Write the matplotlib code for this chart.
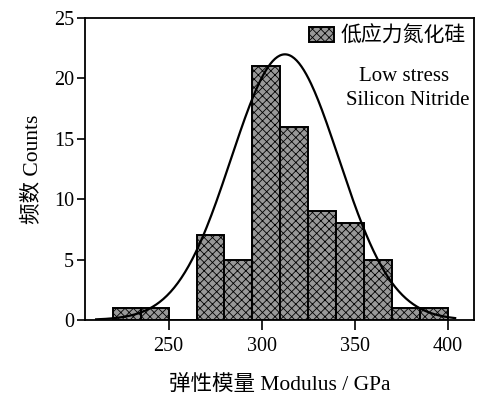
import numpy as np
import matplotlib.pyplot as plt

plt.rcParams['font.family'] = ['Liberation Serif', 'Noto Sans CJK SC']
plt.rcParams['hatch.linewidth'] = 0.6

# histogram bins (GPa) and counts
bin_edges = np.array([220, 235, 250, 265, 280, 295, 310, 325, 340, 355, 370, 385, 400])
counts = np.array([1, 1, 0, 7, 5, 21, 16, 9, 8, 5, 1, 1])

# normal curve drawn over the histogram
fit_mean = 312.5
fit_sigma = 29.0
fit_peak = 22.0
fit_range = (211, 404)

fig = plt.figure(figsize=(4.8, 3.94), dpi=100)
ax = fig.add_axes([0.177, 0.188, 0.81, 0.766])

widths = np.diff(bin_edges)
ax.bar(bin_edges[:-1], counts, width=widths, align='edge',
       facecolor='#999999', edgecolor='black', linewidth=1.4,
       hatch='xxxx', label='低应力氮化硅')

xs = np.linspace(fit_range[0], fit_range[1], 300)
ys = fit_peak * np.exp(-0.5 * ((xs - fit_mean) / fit_sigma) ** 2)
ax.plot(xs, ys, color='black', linewidth=1.6)

ax.set_xlim(205, 414)
ax.set_ylim(0, 25)
ax.set_xticks([250, 300, 350, 400])
ax.set_yticks([0, 5, 10, 15, 20, 25])
ax.tick_params(direction='out', width=1.2, labelsize=14.5)
ax.tick_params(axis='x', length=7, pad=5)
ax.tick_params(axis='y', length=6, pad=2)
for s in ax.spines.values():
    s.set_linewidth(1.3)

ax.set_xlabel('弹性模量 Modulus / GPa', fontsize=15.5, labelpad=14)
ax.set_ylabel('频数 Counts', fontsize=15.5, labelpad=8)

leg = ax.legend(loc='upper right', frameon=False, fontsize=15,
                handlelength=1.2, handleheight=0.7, handletextpad=0.3,
                borderaxespad=0.1, borderpad=0.3)
ax.text(0.82, 0.805, 'Low stress', transform=ax.transAxes,
        ha='center', va='center', fontsize=15)
ax.text(0.83, 0.728, 'Silicon Nitride', transform=ax.transAxes,
        ha='center', va='center', fontsize=15)

plt.savefig('out.png', dpi=100)
